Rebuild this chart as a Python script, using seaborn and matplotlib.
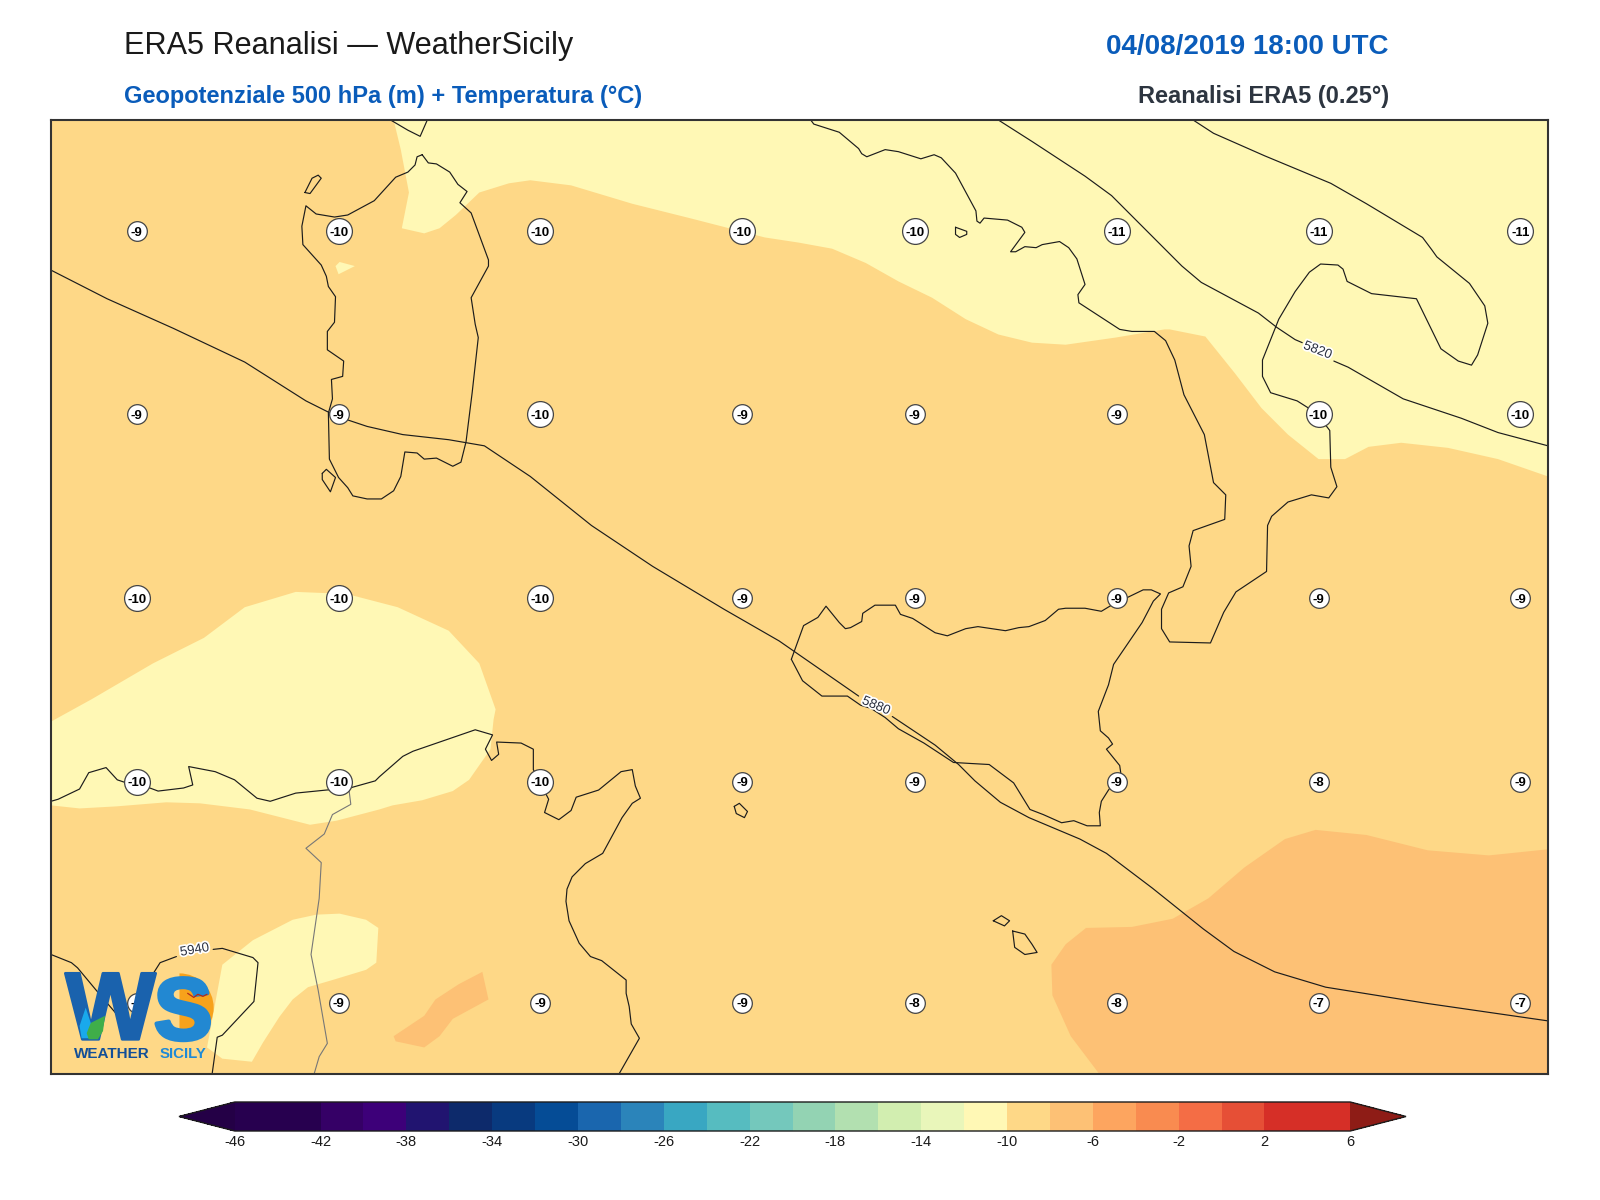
import numpy as np
import matplotlib
matplotlib.use("Agg")
import matplotlib.pyplot as plt
import matplotlib.patheffects as pe
from matplotlib.colors import ListedColormap, BoundaryNorm
from matplotlib.cm import ScalarMappable
from matplotlib.patches import Wedge, Polygon
import seaborn as sns

sns.set_theme(style="white")
plt.rcParams['font.family'] = ['Liberation Sans', 'DejaVu Sans']
plt.rcParams['axes.unicode_minus'] = False

# colour scale
levels = list(range(-46, 8, 2))
band_colors = ['#27004f', '#27004f', '#350066', '#3d0079', '#211470', '#0d2a6b', '#083a7f', '#054c96',
               '#1a66ae', '#2b84ba', '#39a7c2', '#56bcc0', '#74c8bc', '#93d3b3', '#b2e0b0', '#d2eeb0',
               '#e9f6ba', '#fff8b5', '#fed887', '#fdc175', '#fda55f', '#f98b50', '#f46d45', '#e64f36',
               '#d62f27', '#d62f27']
under_color = '#240046'
over_color = '#8e1c16'
tick_values = list(range(-46, 10, 4))

# map frame (map units)
x_range = (50, 1518)
y_range = (1052, 118)

# temperature station values
grid_x = [134, 332, 530, 728, 897, 1095, 1293, 1491]
grid_y = [227, 406, 586, 766, 982]
temps = [[-9, -10, -10, -10, -10, -11, -11, -11],
         [-9, -9, -10, -9, -9, -9, -10, -10],
         [-10, -10, -10, -9, -9, -9, -9, -9],
         [-10, -10, -10, -9, -9, -9, -8, -9],
         [-9, -9, -9, -9, -8, -8, -7, -7]]

# temperature bands
base_band = -9
pale_north = [(386,118),(393,147),(401,189),(394,224),(416,229),(431,224),(447,211),(470,189),(499,180),(520,177),
              (560,182),(620,200),(680,215),(750,233),(783,238),(816,244),(849,258),(881,276),(914,292),(947,313),
              (979,328),(1012,336),(1045,338),(1094,331),(1142,323),(1147,323),(1182,330),(1211,366),(1237,400),
              (1263,426),(1293,450),(1319,450),(1342,438),(1374,434),(1420,439),(1469,450),(1518,467),(1518,118)]
pale_spot = [(329,261),(333,257),(348,261),(332,269)]
pale_west = [(50,707),(90,685),(150,650),(200,625),(240,595),(290,580),(340,582),(390,595),(440,618),(470,650),
             (486,695),(484,705),(481,734),(460,764),(444,775),(414,784),(385,789),(372,793),(330,804),(304,808),
             (245,793),(196,787),(163,786),(114,790),(78,792),(50,789)]
pale_south = [(203,1026),(218,945),(248,921),(287,901),(310,896),(333,895),(359,901),(371,909),(369,943),(359,950),
              (326,960),(302,967),(287,979),(274,996),(258,1021),(247,1040),(218,1037)]
warm_spot = [(473,952),(479,979),(444,998),(431,1015),(416,1026),(388,1020),(386,1015),(416,995),(427,979),(450,964)]
warm_east = [(1078,1052),(1050,1015),(1032,975),(1031,945),(1045,925),(1065,909),(1110,908),(1150,900),(1185,880),
             (1220,850),(1260,822),(1290,813),(1340,818),(1400,833),(1460,838),(1518,832),(1518,1052)]
bands = [(-11, pale_north), (-11, pale_spot), (-11, pale_west), (-11, pale_south), (-7, warm_spot), (-7, warm_east)]

# coastlines
sardinia = [(414,152),(420,160),(428,161),(441,169),(449,181),(458,188),(451,199),(462,209),(479,255),(479,261),
            (462,292),(466,318),(469,331),(463,385),(457,433),(452,453),(444,457),(428,449),
            (416,450),(409,444),(397,443),(393,467),(386,481),(374,489),(360,489),(346,486),(341,478),(332,468),
            (323,450),(322,405),(326,391),(325,372),(336,369),(337,354),(321,343),(321,325),(328,316),(329,291),
            (322,281),(320,271),(315,260),(297,240),(296,222),(300,202),(310,210),(328,213),(341,211),(367,197),
            (388,174),(400,169),(407,162),(409,154),(414,152)]
asinara = [(299,189),(306,175),(312,172),(315,175),(304,190),(299,189)]
antioco = [(316,464),(320,460),(329,468),(324,482),(316,470),(316,464)]
corsica = [(383,118),(400,128),(412,134),(419,118)]
sicily = [(776,646),(788,613),(802,605),(810,594),(823,610),(829,616),(834,615),(845,609),(846,601),(858,593),
          (878,593),(883,602),(895,606),(917,620),(929,623),(947,616),(959,614),(986,618),(999,615),(1009,614),
          (1025,608),(1038,597),(1045,596),(1064,596),(1080,599),(1090,593),(1121,578),(1129,578),(1138,582),(1131,589),
          (1120,610),(1092,651),(1087,671),(1077,697),(1079,716),(1087,723),(1091,729),(1085,734),(1098,750),(1099,757),
          (1087,774),(1080,785),(1078,796),(1079,809),(1066,809),(1053,804),(1041,806),(1023,798),(1010,793),(994,767),
          (970,749),(952,748),(935,747),(906,728),(881,714),(868,703),(854,694),(844,691),(831,682),(806,682),
          (787,667),(776,646)]
africa = [(50,785),(57,783),(78,773),(87,757),(104,752),(115,764),(124,767),(147,772),(155,775),(180,772),(189,769),
          (185,751),(211,756),(230,764),(252,782),(265,785),(290,777),(320,774),(343,772),(368,765),(372,761),(395,741),
          (405,736),(466,715),(483,720),(476,734),(482,745),(489,739),(487,727),(511,728),(523,734),(523,754),(538,783),
          (534,796),(548,803),(560,794),(565,781),(587,774),(609,756),(620,754),(623,770),(628,782),(620,787),(610,801),
          (591,836),(574,846),(561,859),(556,871),(555,883),(558,902),(568,924),(579,937),(590,941),(614,960),(614,973),
          (617,986),(619,1003),(627,1017),(607,1052)]
italy = [(795,118),(798,122),(823,130),(842,146),(845,151),(850,154),(868,147),(881,149),(903,156),(916,152),(923,155),
         (937,170),(957,207),(958,217),(961,219),(965,214),(988,216),(1002,223),(1005,228),(991,247),(996,247),(1005,242),
         (1016,243),(1022,240),(1039,237),(1048,243),(1056,254),(1064,279),(1057,289),(1058,297),(1098,323),(1110,325),
         (1132,325),(1143,334),(1152,353),(1161,387),(1181,426),(1190,473),(1202,485),(1201,509),(1170,520),
         (1166,535),(1168,555),(1160,575),(1146,581),(1139,597),(1139,616),(1147,629),(1187,630),(1200,600),(1212,580),
         (1242,560),(1243,515),(1247,506),(1263,492),(1286,485),(1303,488),(1311,477),(1305,458),(1304,422),(1291,405),
         (1272,393),(1246,385),(1238,369),(1238,353),(1254,313),(1270,286),(1284,267),(1295,259),(1312,260),(1317,264),
         (1321,276),(1345,288),(1389,293),(1413,342),(1430,354),(1443,358),(1449,348),(1459,317),(1456,300),(1441,278),
         (1409,252),(1404,245),(1395,233),(1340,200),(1305,180),(1240,153),(1190,131),(1170,118)]
ischia = [(937,223),(948,227),(948,230),(941,233),(937,230),(937,223)]
pantelleria = [(720,790),(725,787),(733,795),(730,801),(722,797),(720,790)]
gozo = [(974,902),(982,897),(990,902),(985,907),(974,902)]
malta = [(993,912),(1005,915),(1012,925),(1017,933),(1005,935),(995,928),(993,912)]
coasts = [sardinia, asinara, antioco, corsica, sicily, africa, italy, ischia, pantelleria, gozo, malta]
border = [(342,772),(344,788),(326,798),(318,817),(300,831),(315,845),(313,880),(305,935),(312,970),(321,1022),(313,1035),(308,1052)]

# geopotential isolines, split where a label sits
iso_5820 = [[(979,118),(1012,139),(1064,173),(1090,192),(1123,225),(1143,245),(1159,261),(1178,277),(1234,307),(1252,321),(1270,333),(1277,336)],
            [(1308,354),(1322,360),(1376,391),(1433,410),(1469,424),(1518,437)]]
iso_5880 = [[(50,265),(105,293),(170,322),(240,355),(300,393),(330,408),(360,418),(395,426),(440,431),(475,437),(520,467),
             (580,515),(640,555),(710,597),(764,628),(842,682)],
            [(875,702),(917,730),(940,749),(956,765),(981,786),(1009,801),(1059,822),(1085,836),(1130,870),(1180,910),(1210,932),(1250,952),
             (1300,967),(1400,983),(1518,1000)]]
iso_5940 = [[(50,935),(70,943),(76,948),(96,972),(120,1000),(135,1000),(150,954),(157,943),(173,937)],
            [(209,930),(218,929),(248,938),(253,943),(249,981),(218,1014),(213,1016),(208,1052)]]
iso_labels = [('5820', 1292, 344, -21), ('5880', 859, 692, -23), ('5940', 191, 931, 10)]

cmap = ListedColormap(band_colors)
cmap.set_under(under_color)
cmap.set_over(over_color)
norm = BoundaryNorm(levels, cmap.N)

fig = plt.figure(figsize=(16, 12), dpi=100)
W, H = 1600, 1200
ax = fig.add_axes([51/W, 1-1074/H, 1497/W, 954/H])
ax.set_xlim(*x_range)
ax.set_ylim(*y_range)
ax.set_aspect('auto')
ax.set_facecolor(cmap(norm(base_band)))
ax.set_xticks([])
ax.set_yticks([])
ax.grid(False)
for s in ax.spines.values():
    s.set_visible(True)
    s.set_color('#333333')
    s.set_linewidth(1.5)
    s.set_zorder(20)

for val, poly in bands:
    xs, ys = zip(*poly)
    ax.fill(xs, ys, color=cmap(norm(val)), lw=0, zorder=1)

def draw(path, **kw):
    xs, ys = zip(*path)
    sns.lineplot(x=list(xs), y=list(ys), sort=False, estimator=None, ax=ax, **kw)

draw(border, color='#777777', lw=0.8, zorder=3)
for c in coasts:
    draw(c, color='#1c1c1c', lw=0.85, zorder=3)
for iso in (iso_5820, iso_5880, iso_5940):
    for seg in iso:
        draw(seg, color='#1c1c1c', lw=0.85, zorder=4)
for txt, x, y, rot in iso_labels:
    ax.text(x, y, txt, rotation=rot, ha='center', va='center', fontsize=9.5, color='#2a3040', zorder=5,
            rotation_mode='anchor', path_effects=[pe.withStroke(linewidth=2.5, foreground='white')])

# temperature markers
gx, gy, gt = [], [], []
for j, yy in enumerate(grid_y):
    for i, xx in enumerate(grid_x):
        gx.append(xx); gy.append(yy); gt.append(temps[j][i])
gx, gy, gt = np.array(gx), np.array(gy), np.array(gt)
one = gt > -10
sns.scatterplot(x=gx[one], y=gy[one], s=200, color='white', edgecolor='#444444', linewidth=0.9, ax=ax, zorder=6)
sns.scatterplot(x=gx[~one], y=gy[~one], s=345, color='white', edgecolor='#444444', linewidth=0.9, ax=ax, zorder=6)
for x, y, t in zip(gx, gy, gt):
    ax.text(x, y, str(t), ha='center', va='center_baseline', fontsize=9.5, fontweight='bold', color='black', zorder=7)

# logo
ax.add_patch(Wedge((176, 987), 33.5, -90, 90, color='#f7a21b', zorder=10, lw=0))
ax.text(64, 1018, 'W', fontsize=69, fontweight='bold', color='#1a62ad', ha='left', va='baseline', zorder=11,
        path_effects=[pe.withStroke(linewidth=2, foreground='#1a62ad')])
ax.text(151, 1018, 'S', fontsize=63, fontweight='bold', color='#2288d2', ha='left', va='baseline', zorder=12,
        path_effects=[pe.withStroke(linewidth=3, foreground='#2288d2')])
ax.add_patch(Polygon([(78,1005),(84,987),(90,1005),(90,1017),(80,1017)], color='#19a9ec', zorder=13, lw=0))
ax.add_patch(Polygon([(85,1012),(89,1002),(103,995),(101,1010),(96,1018),(87,1018)], color='#3fae49', zorder=14, lw=0))
gull_x = [184, 190, 194, 199, 203]
gull_y = [973, 977, 974, 976, 974]
sns.lineplot(x=gull_x, y=gull_y, sort=False, estimator=None, ax=ax, color='#b02a1a', lw=0.9, zorder=13)
ax.text(73, 1032, 'WEATHER', fontsize=11, fontweight='bold', color='#124f98', ha='left', va='center', zorder=12)
ax.text(202, 1032, 'SICILY', fontsize=10.8, fontweight='bold', color='#1f8ad6', ha='right', va='center', zorder=12)

# headings
def ftext(x, y, s, **kw):
    fig.text(x/W, 1-y/H, s, va='center', **kw)
ftext(124, 46, 'ERA5 Reanalisi \u2014 WeatherSicily', fontsize=22.1, color='#1a1a1a', ha='left')
ftext(1389, 47, '04/08/2019 18:00 UTC', fontsize=20, fontweight='bold', color='#0a5cba', ha='right')
ftext(124, 96, 'Geopotenziale 500 hPa (m) + Temperatura (\u00b0C)', fontsize=17, fontweight='bold', color='#0a5cba', ha='left')
ftext(1389, 96, 'Reanalisi ERA5 (0.25\u00b0)', fontsize=17, fontweight='bold', color='#2d3540', ha='right')

# colour bar
cax = fig.add_axes([179/W, 1-1131/H, 1227/W, 29/H])
sm = ScalarMappable(norm=norm, cmap=cmap)
cb = fig.colorbar(sm, cax=cax, orientation='horizontal', extend='both', extendfrac=0.05,
                  spacing='proportional', ticks=tick_values, drawedges=False)
cb.ax.minorticks_off()
cb.ax.set_xticklabels([str(t) for t in tick_values], fontsize=10.5, color='#1a1a1a')
cb.ax.tick_params(length=0, pad=3)
cb.outline.set_edgecolor('#1c1c1c')
cb.outline.set_linewidth(1.0)

fig.savefig('out.png', dpi=100)
